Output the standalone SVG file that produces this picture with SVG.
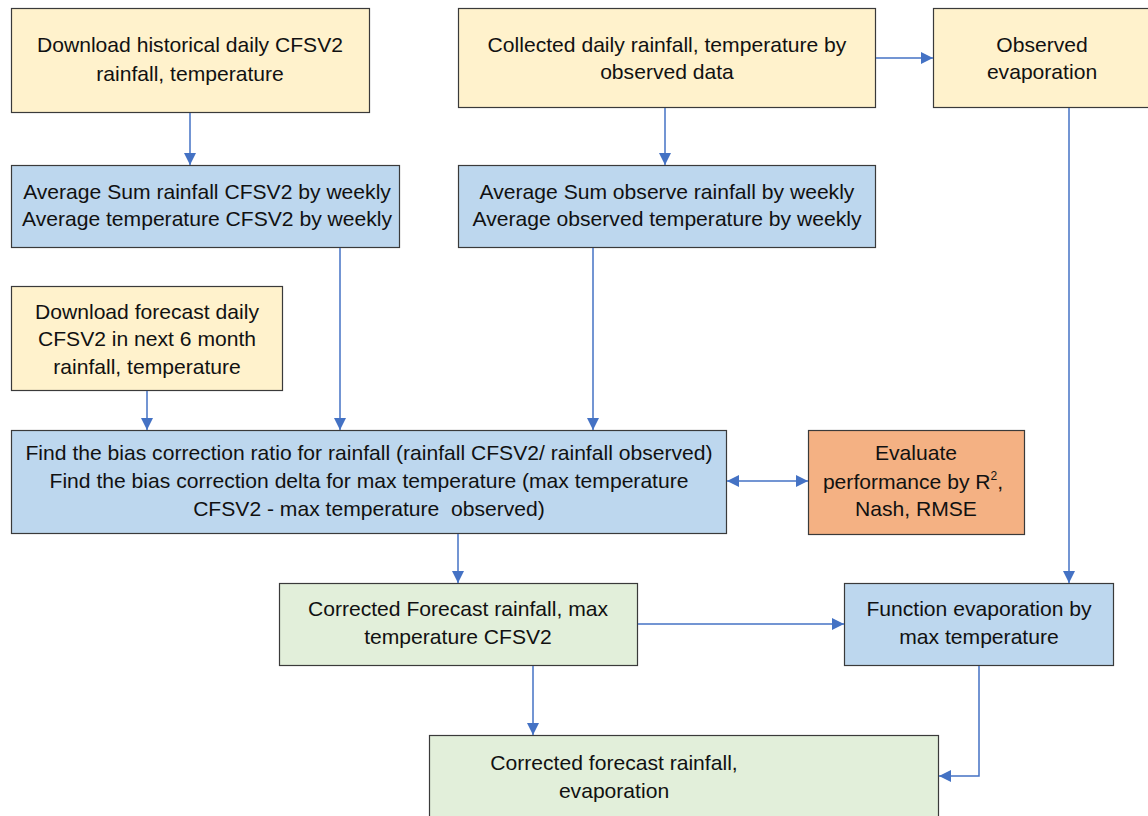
<svg xmlns="http://www.w3.org/2000/svg" width="1148" height="816" viewBox="0 0 1148 816">
<defs>
<style>
.box{stroke:#3a3a3a;stroke-width:1.2}
.y{fill:#fff2cc}
.b{fill:#bdd7ee}
.o{fill:#f4b183}
.g{fill:#e2efda}
text{font-family:"Liberation Sans",Arial,sans-serif;font-size:21.1px;fill:#111;text-anchor:middle}
.c{stroke:#4472c4;stroke-width:1.5;fill:none}
</style>
<marker id="ah" viewBox="0 0 10 10" refX="10" refY="5" markerWidth="12" markerHeight="12" markerUnits="userSpaceOnUse" orient="auto-start-reverse">
<path d="M0,0 L10,5 L0,10 z" fill="#4472c4"/>
</marker>
</defs>
<rect width="1148" height="816" fill="#fff"/>
<g id="n1"><rect class="box y" x="11.5" y="8.5" width="358" height="104"/>
<text x="190" y="52">Download historical daily CFSV2</text><text x="190" y="81">rainfall, temperature</text></g>
<g id="n2"><rect class="box b" x="11.5" y="165.5" width="388" height="82"/>
<text x="207" y="199">Average Sum rainfall CFSV2 by weekly</text><text x="207" y="226">Average temperature CFSV2 by weekly</text></g>
<g id="n3"><rect class="box y" x="458.5" y="8.5" width="417" height="99"/>
<text x="667" y="52">Collected daily rainfall, temperature by</text><text x="667" y="79">observed data</text></g>
<g id="n4"><rect class="box y" x="933.5" y="8.5" width="220" height="99"/>
<text x="1042" y="52">Observed</text><text x="1042" y="79">evaporation</text></g>
<g id="n5"><rect class="box b" x="458.5" y="165.5" width="417" height="82"/>
<text x="667" y="199">Average Sum observe rainfall by weekly</text><text x="667" y="226">Average observed temperature by weekly</text></g>
<g id="n6"><rect class="box y" x="11.5" y="286.5" width="271" height="104"/>
<text x="147" y="319">Download forecast daily</text><text x="147" y="346">CFSV2 in next 6 month</text><text x="147" y="374">rainfall, temperature</text></g>
<g id="n7"><rect class="box b" x="11.5" y="430.5" width="715" height="103"/>
<text x="369" y="460">Find the bias correction ratio for rainfall (rainfall CFSV2/ rainfall observed)</text><text x="369" y="488">Find the bias correction delta for max temperature (max temperature</text><text x="369" y="516" style="white-space:pre">CFSV2 - max temperature  observed)</text></g>
<g id="n8"><rect class="box o" x="808.5" y="430.5" width="216" height="104"/>
<text x="916" y="460">Evaluate</text><text x="913" y="489">performance by R<tspan font-size="12" dy="-9">2</tspan><tspan dy="9">,</tspan></text><text x="916" y="516">Nash, RMSE</text></g>
<g id="n9"><rect class="box g" x="279.5" y="583.5" width="358" height="82"/>
<text x="458" y="616">Corrected Forecast rainfall, max</text><text x="458" y="644">temperature CFSV2</text></g>
<g id="n10"><rect class="box b" x="844.5" y="583.5" width="269" height="82"/>
<text x="979" y="616">Function evaporation by</text><text x="979" y="644">max temperature</text></g>
<g id="n11"><rect class="box g" x="429.5" y="735.5" width="509" height="90"/>
<text x="614" y="770">Corrected forecast rainfall,</text><text x="614" y="798">evaporation</text></g>
<g id="connectors">
<path class="c" d="M190,113 V165" marker-end="url(#ah)"/>
<path class="c" d="M665,108 V165" marker-end="url(#ah)"/>
<path class="c" d="M876,58 H933" marker-end="url(#ah)"/>
<path class="c" d="M147,391 V430" marker-end="url(#ah)"/>
<path class="c" d="M340,248 V430" marker-end="url(#ah)"/>
<path class="c" d="M593,248 V430" marker-end="url(#ah)"/>
<path class="c" d="M727,481 H808" marker-start="url(#ah)" marker-end="url(#ah)"/>
<path class="c" d="M458,534 V583" marker-end="url(#ah)"/>
<path class="c" d="M1069,108 V583" marker-end="url(#ah)"/>
<path class="c" d="M638,624 H844" marker-end="url(#ah)"/>
<path class="c" d="M533,666 V735" marker-end="url(#ah)"/>
<path class="c" d="M979,666 V776 H939" marker-end="url(#ah)"/>
</g>
</svg>
